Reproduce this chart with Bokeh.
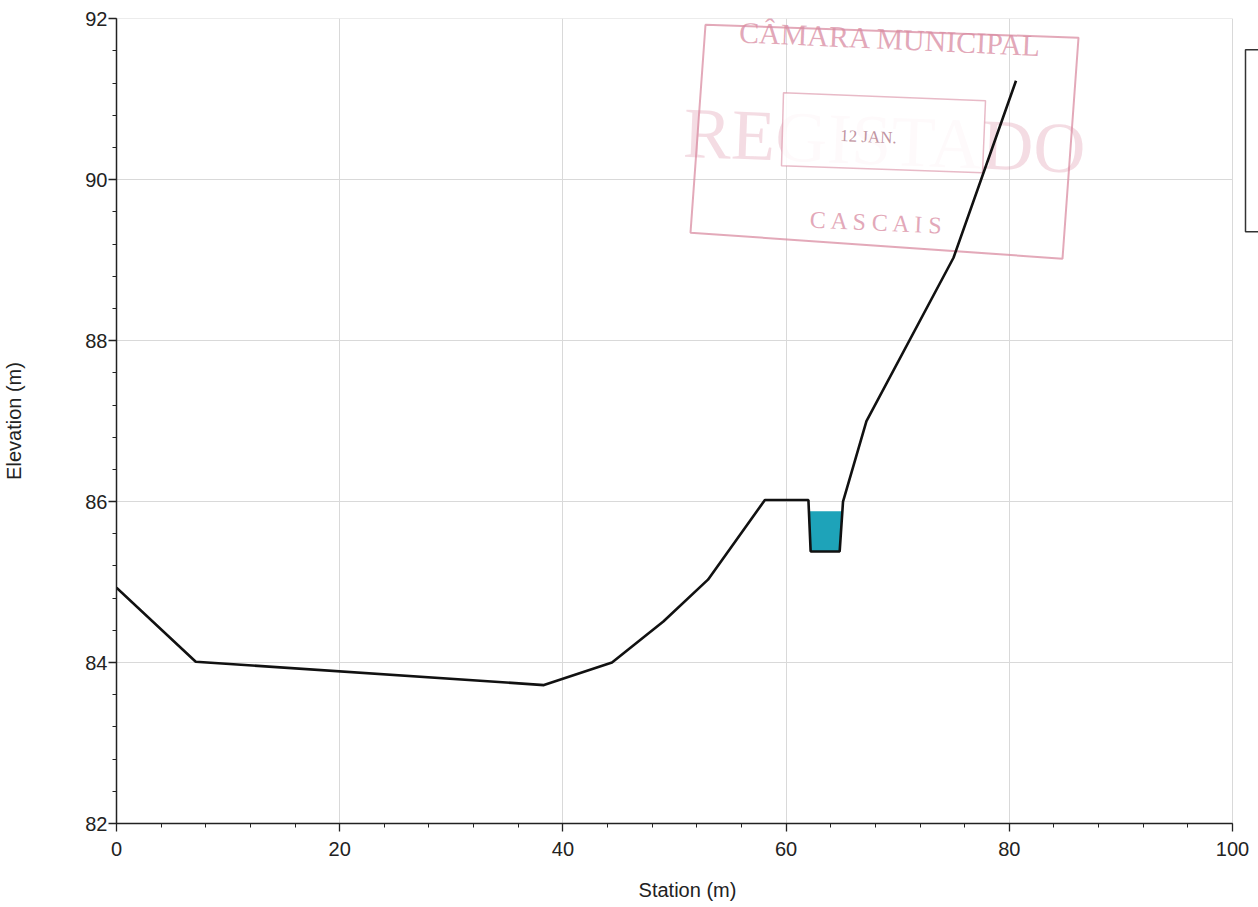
from bokeh.plotting import figure
from bokeh.models import Range1d, PolyAnnotation, Label, FixedTicker
from bokeh.embed import file_html
from bokeh.resources import INLINE

# ---- data ----
ground_station = [0.0, 7.1, 38.3, 44.4, 49.0, 53.0, 58.1, 62.0, 62.2, 64.8, 65.1, 67.2, 75.0, 80.6]
ground_elev = [84.93, 84.01, 83.72, 84.0, 84.51, 85.03, 86.02, 86.02, 85.38, 85.38, 86.0, 87.0, 89.03, 91.23]
ws_elev = 85.88            # water surface
channel_window = (61.0, 66.0)  # stations where the channel lies

x_major = [0, 20, 40, 60, 80, 100]
x_minor = [v for v in range(0, 101, 4)]
y_major = [82, 84, 86, 88, 90, 92]
y_minor = [82 + 0.4 * i for i in range(26)]

x_label = "Station (m)"
y_label = "Elevation (m)"

# ---- water polygon built from ground and water surface ----
wx, wy = [], []
for i in range(len(ground_station) - 1):
    x0, y0 = ground_station[i], ground_elev[i]
    x1, y1 = ground_station[i + 1], ground_elev[i + 1]
    if not (channel_window[0] <= x0 <= channel_window[1] or channel_window[0] <= x1 <= channel_window[1]):
        continue
    if y0 >= ws_elev > y1 or y0 < ws_elev <= y1:
        t = (ws_elev - y0) / (y1 - y0)
        wx.append(x0 + t * (x1 - x0)); wy.append(ws_elev)
    if y1 < ws_elev and channel_window[0] <= x1 <= channel_window[1]:
        wx.append(x1); wy.append(y1)

FONT = "Liberation Sans"

W, H = 1258, 907
LEFT, TOP = 116, 18
FRAME_W_100 = 1116   # pixels for stations 0..100
FRAME_H = 805
XSCALE = FRAME_W_100 / 100.0
x_end = 100 + (W - LEFT - FRAME_W_100) / XSCALE

p = figure(width=W, height=H, output_backend="svg", toolbar_location=None,
           x_range=Range1d(0, x_end), y_range=Range1d(82, 92.003),
           min_border_left=LEFT, min_border_right=0, min_border_top=TOP,
           min_border_bottom=H - TOP - FRAME_H)
p.outline_line_color = None
p.background_fill_color = "white"
p.border_fill_color = "white"

p.xaxis.ticker = FixedTicker(ticks=x_major, minor_ticks=x_minor)
p.yaxis.ticker = FixedTicker(ticks=y_major, minor_ticks=y_minor)
p.xaxis.bounds = (0, 100)
p.yaxis.bounds = (82, 92)
p.xgrid.ticker = FixedTicker(ticks=x_major)
p.ygrid.ticker = FixedTicker(ticks=y_major)
p.xgrid.cross_bounds = (82, 92)
p.ygrid.cross_bounds = (0, 100)

for ax in (p.xaxis[0], p.yaxis[0]):
    ax.axis_line_color = "#222222"
    ax.axis_line_width = 1.5
    ax.major_tick_line_color = "#222222"
    ax.minor_tick_line_color = "#222222"
    ax.major_tick_line_width = 1.3
    ax.major_tick_out = 8
    ax.major_tick_in = 0
    ax.minor_tick_out = 4
    ax.minor_tick_in = 0
    ax.major_label_text_font = FONT
    ax.major_label_text_font_size = "20px"
    ax.major_label_text_color = "#222222"
    ax.axis_label_text_font = FONT
    ax.axis_label_text_font_size = "20px"
    ax.axis_label_text_font_style = "normal"
    ax.axis_label_text_color = "#222222"

p.xaxis.axis_label = x_label
p.yaxis.axis_label = y_label
p.xaxis.major_label_standoff = 10
p.xaxis.axis_label_standoff = 20
p.yaxis.major_label_standoff = 1
p.yaxis.axis_label_standoff = 57

p.xgrid.grid_line_color = "#d9d9d9"
p.ygrid.grid_line_color = "#d9d9d9"
p.xgrid.grid_line_width = 1
p.ygrid.grid_line_width = 1

# ---- stamp (scanned rubber stamp), placed in data space, under the profile ----
def px(xp):
    return (xp - LEFT) / XSCALE

def py(yp):
    return 82 + (TOP + FRAME_H - yp) / (FRAME_H / 10.0)

STAMP = "#d98ca2"
p.add_layout(PolyAnnotation(xs=[px(705), px(1078), px(1062), px(690)],
                            ys=[py(24), py(37), py(258), py(232)],
                            fill_alpha=0, line_color=STAMP, line_width=2, line_alpha=0.75,
                            level="underlay"))
p.add_layout(Label(x=px(884), y=py(140), text="REGISTADO", text_font="Liberation Sans Narrow",
                   text_font_size="72px", text_color=STAMP, text_alpha=0.3,
                   text_align="center", text_baseline="middle", angle=-0.04, level="underlay"))
p.add_layout(PolyAnnotation(xs=[px(783), px(985), px(982), px(781)],
                            ys=[py(92), py(100), py(172), py(165)],
                            fill_color="white", fill_alpha=0.85, line_color=STAMP, line_width=1.5,
                            line_alpha=0.6, level="underlay"))
p.add_layout(Label(x=px(868), y=py(136), text="12 JAN.", text_font="Liberation Serif",
                   text_font_size="17px", text_color="#b07888", text_alpha=0.8,
                   text_align="center", text_baseline="middle", angle=-0.04, level="underlay"))
p.add_layout(Label(x=px(890), y=py(38), text="CÂMARA MUNICIPAL", text_font="Liberation Serif",
                   text_font_size="30px", text_color=STAMP, text_alpha=0.75,
                   text_align="center", text_baseline="middle", angle=-0.045, level="underlay"))
p.add_layout(Label(x=px(878), y=py(222), text="C A S C A I S", text_font="Liberation Serif",
                   text_font_size="24px", text_color=STAMP, text_alpha=0.75,
                   text_align="center", text_baseline="middle", angle=-0.045, level="underlay"))

# legend frame, cut by the page edge
p.add_layout(PolyAnnotation(xs=[px(1245), px(1290), px(1290), px(1245)],
                            ys=[py(49), py(49), py(231), py(231)],
                            fill_color="white", fill_alpha=1, line_color="#333333",
                            line_alpha=1, line_width=1.5))

# ---- water and ground ----
p.patch(wx, wy, fill_color="#1ea3b9", line_color=None)
p.line(ground_station, ground_elev, line_color="#111111", line_width=2.6)

open("out.html", "w").write(file_html(p, INLINE))
